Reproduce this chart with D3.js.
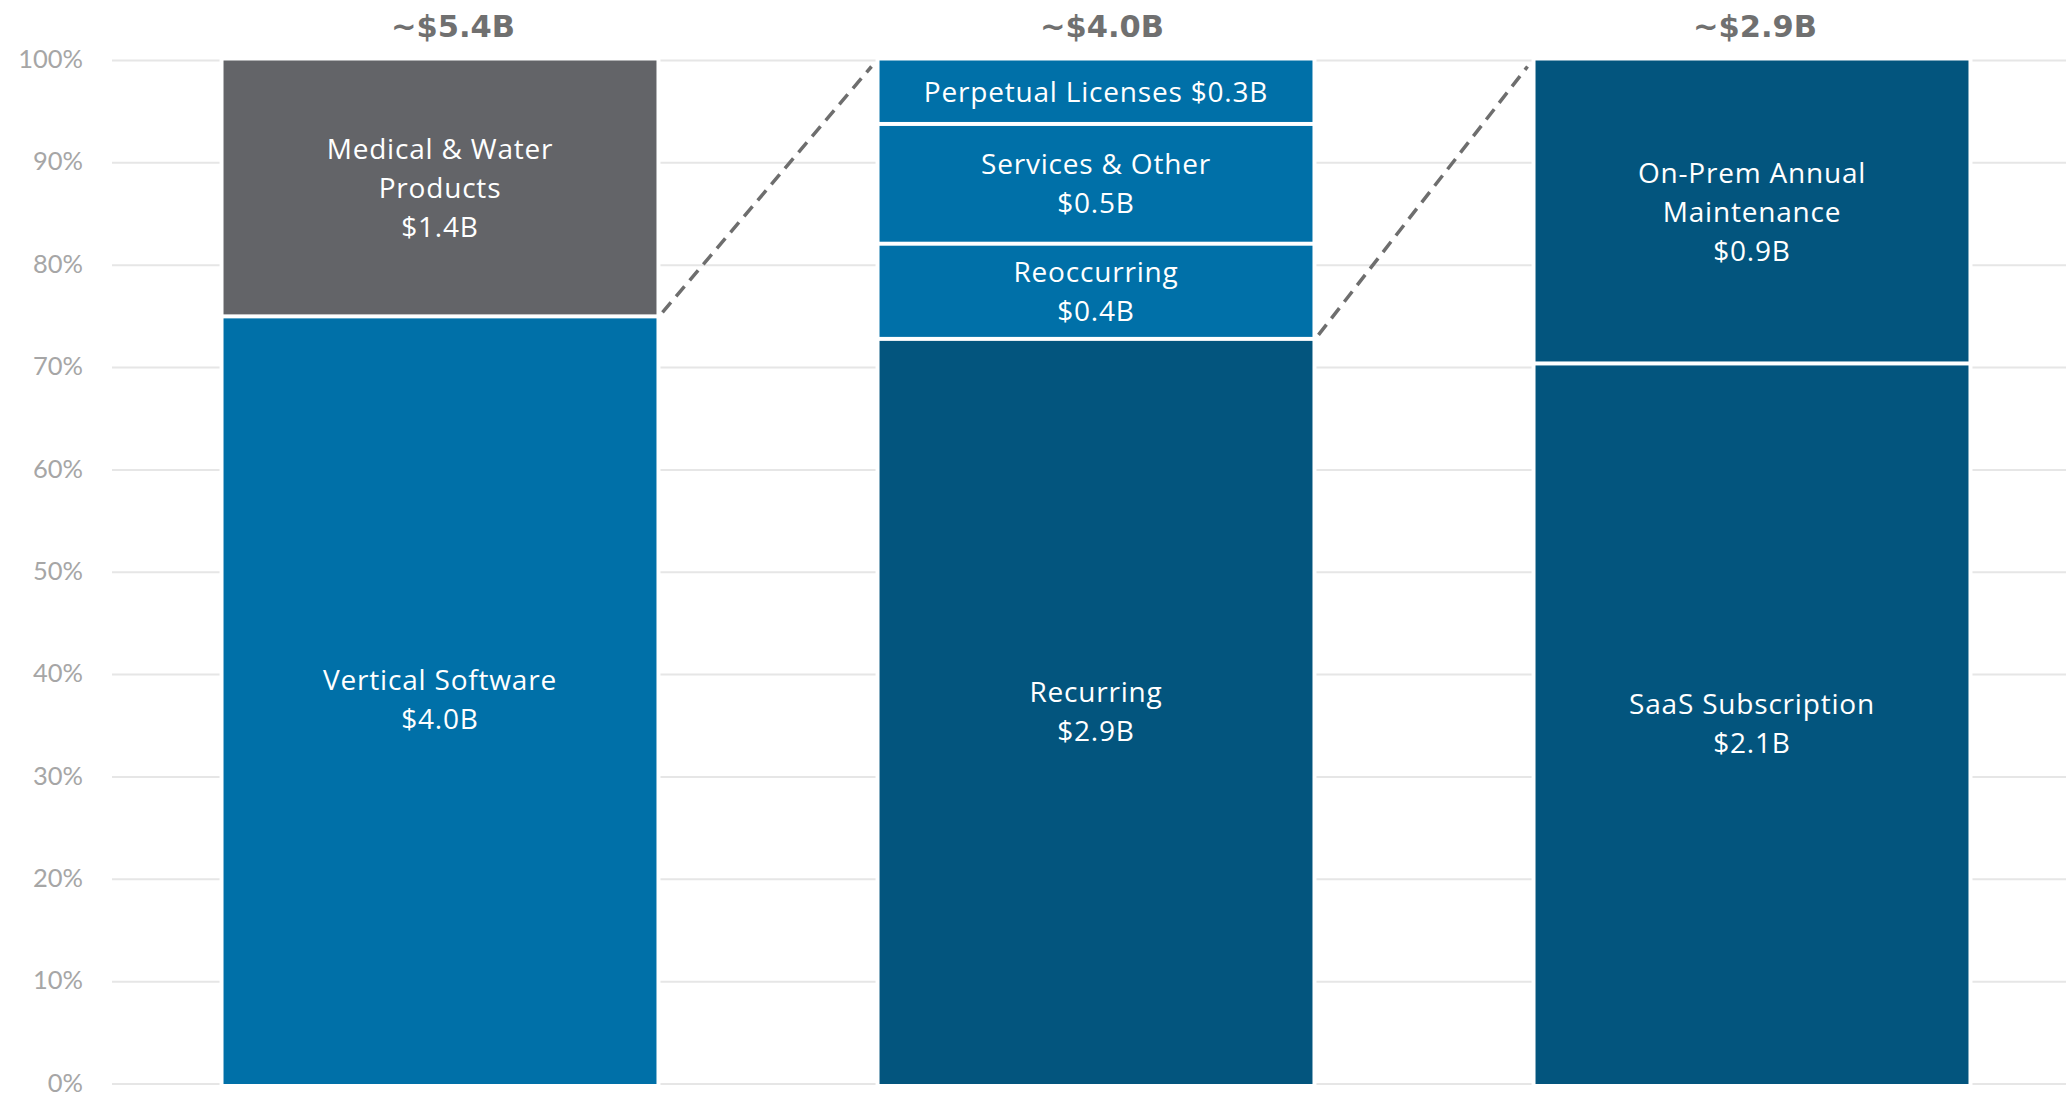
<!DOCTYPE html>
<html>
<head>
<meta charset="utf-8">
<script src="https://cdn.jsdelivr.net/npm/d3@7"></script>
<style>
  body { margin: 0; background: #fff; }
  svg { display: block; }
</style>
</head>
<body>
<div id="chart"></div>
<script>
// data
const totals = ["~$5.4B", "~$4.0B", "~$2.9B"];
const segNames = [
  ["Vertical Software", "Medical & Water|Products"],
  ["Recurring", "Reoccurring", "Services & Other", "Perpetual Licenses"],
  ["SaaS Subscription", "On-Prem Annual|Maintenance"]
];
const segAmounts = [
  ["$4.0B", "$1.4B"],
  ["$2.9B", "$0.4B", "$0.5B", "$0.3B"],
  ["$2.1B", "$0.9B"]
];
// share of each bar, in percent
const segShares = [
  [75.0, 25.0],
  [72.8, 9.3, 11.7, 6.2],
  [70.4, 29.6]
];
// which segment of a bar is broken down in the next bar
const expanded = [0, 0];
const yTicks = [0, 10, 20, 30, 40, 50, 60, 70, 80, 90, 100];

// colours
const gray = "#636468", blue = "#0070a8", navy = "#03557e";
const segColor = {
  "Vertical Software": blue,
  "Medical & Water|Products": gray,
  "Recurring": navy,
  "Reoccurring": blue,
  "Services & Other": blue,
  "Perpetual Licenses": blue,
  "SaaS Subscription": navy,
  "On-Prem Annual|Maintenance": navy
};
// small horizontal nudges of the total labels, as in the original slide
const totalNudge = [13, 6, 3];

const width = 2066, height = 1097;
const margin = { top: 60.5, right: -14, bottom: 13, left: 112 };

const svg = d3.select("#chart").append("svg")
  .attr("width", width)
  .attr("height", height);

const x = d3.scaleBand()
  .domain(totals)
  .range([margin.left, width - margin.right])
  .paddingInner(0.34)
  .paddingOuter(0.17);

const y = d3.scaleLinear()
  .domain([0, 100])
  .range([height - margin.bottom, margin.top]);

// gridlines
svg.append("g")
  .selectAll("line")
  .data(yTicks)
  .join("line")
  .attr("x1", margin.left)
  .attr("x2", width)
  .attr("y1", d => y(d))
  .attr("y2", d => y(d))
  .attr("stroke", "#e6e6e6")
  .attr("stroke-width", 2);

// y axis labels
const yAxis = svg.append("g")
  .attr("transform", "translate(" + (margin.left - 29) + ",0)")
  .call(d3.axisLeft(y).tickValues(yTicks).tickFormat(d => d + "%").tickSize(0).tickPadding(0));
yAxis.select(".domain").remove();
yAxis.selectAll("text")
  .attr("dy", "0.28em")
  .attr("fill", "#a6a6a6")
  .style("font-family", "Lato, 'Open Sans', sans-serif")
  .style("font-size", "25.5px");

// flatten segments
const segs = [];
totals.forEach((t, i) => {
  let acc = 0;
  segShares[i].forEach((s, j) => {
    segs.push({ bar: t, bi: i, j: j, name: segNames[i][j], amount: segAmounts[i][j], y0: acc, y1: acc + s });
    acc += s;
  });
});

// white backing so gridlines stop short of the bars
svg.append("g")
  .selectAll("rect")
  .data(totals)
  .join("rect")
  .attr("x", d => x(d) - 4)
  .attr("width", x.bandwidth() + 8)
  .attr("y", y(100) - 2)
  .attr("height", y(0) - y(100) + 4)
  .attr("fill", "#fff");

svg.append("g")
  .selectAll("rect")
  .data(segs)
  .join("rect")
  .attr("x", d => x(d.bar))
  .attr("width", x.bandwidth())
  .attr("y", d => y(d.y1) + (d.y1 < 100 ? 2 : 0))
  .attr("height", d => y(d.y0) - y(d.y1) - (d.y1 < 100 ? 2 : 0) - (d.y0 > 0 ? 2 : 0))
  .attr("fill", d => segColor[d.name]);

// segment labels
const lineH = 39;
const labels = svg.append("g")
  .attr("fill", "#fff")
  .style("font-family", "'Open Sans', Lato, sans-serif")
  .style("font-size", "28px")
  .style("letter-spacing", "0.8px")
  .attr("text-anchor", "middle");

segs.forEach(d => {
  const h = y(d.y0) - y(d.y1);
  let lines;
  if (h < 70) lines = [d.name.replace("|", " ") + " " + d.amount];
  else lines = d.name.split("|").concat([d.amount]);
  const cy = (y(d.y0) + y(d.y1)) / 2;
  const cx = x(d.bar) + x.bandwidth() / 2;
  lines.forEach((l, k) => {
    labels.append("text")
      .attr("x", cx)
      .attr("y", cy + (k - (lines.length - 1) / 2) * lineH)
      .attr("dy", "0.35em")
      .text(l);
  });
});

// totals above bars
svg.append("g")
  .selectAll("text")
  .data(totals)
  .join("text")
  .attr("x", (d, i) => x(d) + x.bandwidth() / 2 + totalNudge[i])
  .attr("y", 26)
  .attr("dy", "0.36em")
  .attr("text-anchor", "middle")
  .attr("fill", "#707070")
  .style("font-family", "'DejaVu Sans', sans-serif")
  .style("font-weight", "bold")
  .style("font-size", "30.5px")
  .text(d => d);

// dashed connectors
svg.append("g")
  .selectAll("line")
  .data(expanded)
  .join("line")
  .attr("x1", (d, i) => x(totals[i]) + x.bandwidth() + 6)
  .attr("y1", (d, i) => y(segShares[i].slice(0, d + 1).reduce((a, b) => a + b, 0)) - 4)
  .attr("x2", (d, i) => x(totals[i + 1]) - 8)
  .attr("y2", y(100) + 6)
  .attr("stroke", "#6e6e6e")
  .attr("stroke-width", 3.5)
  .attr("stroke-dasharray", "13,8");
</script>
</body>
</html>
